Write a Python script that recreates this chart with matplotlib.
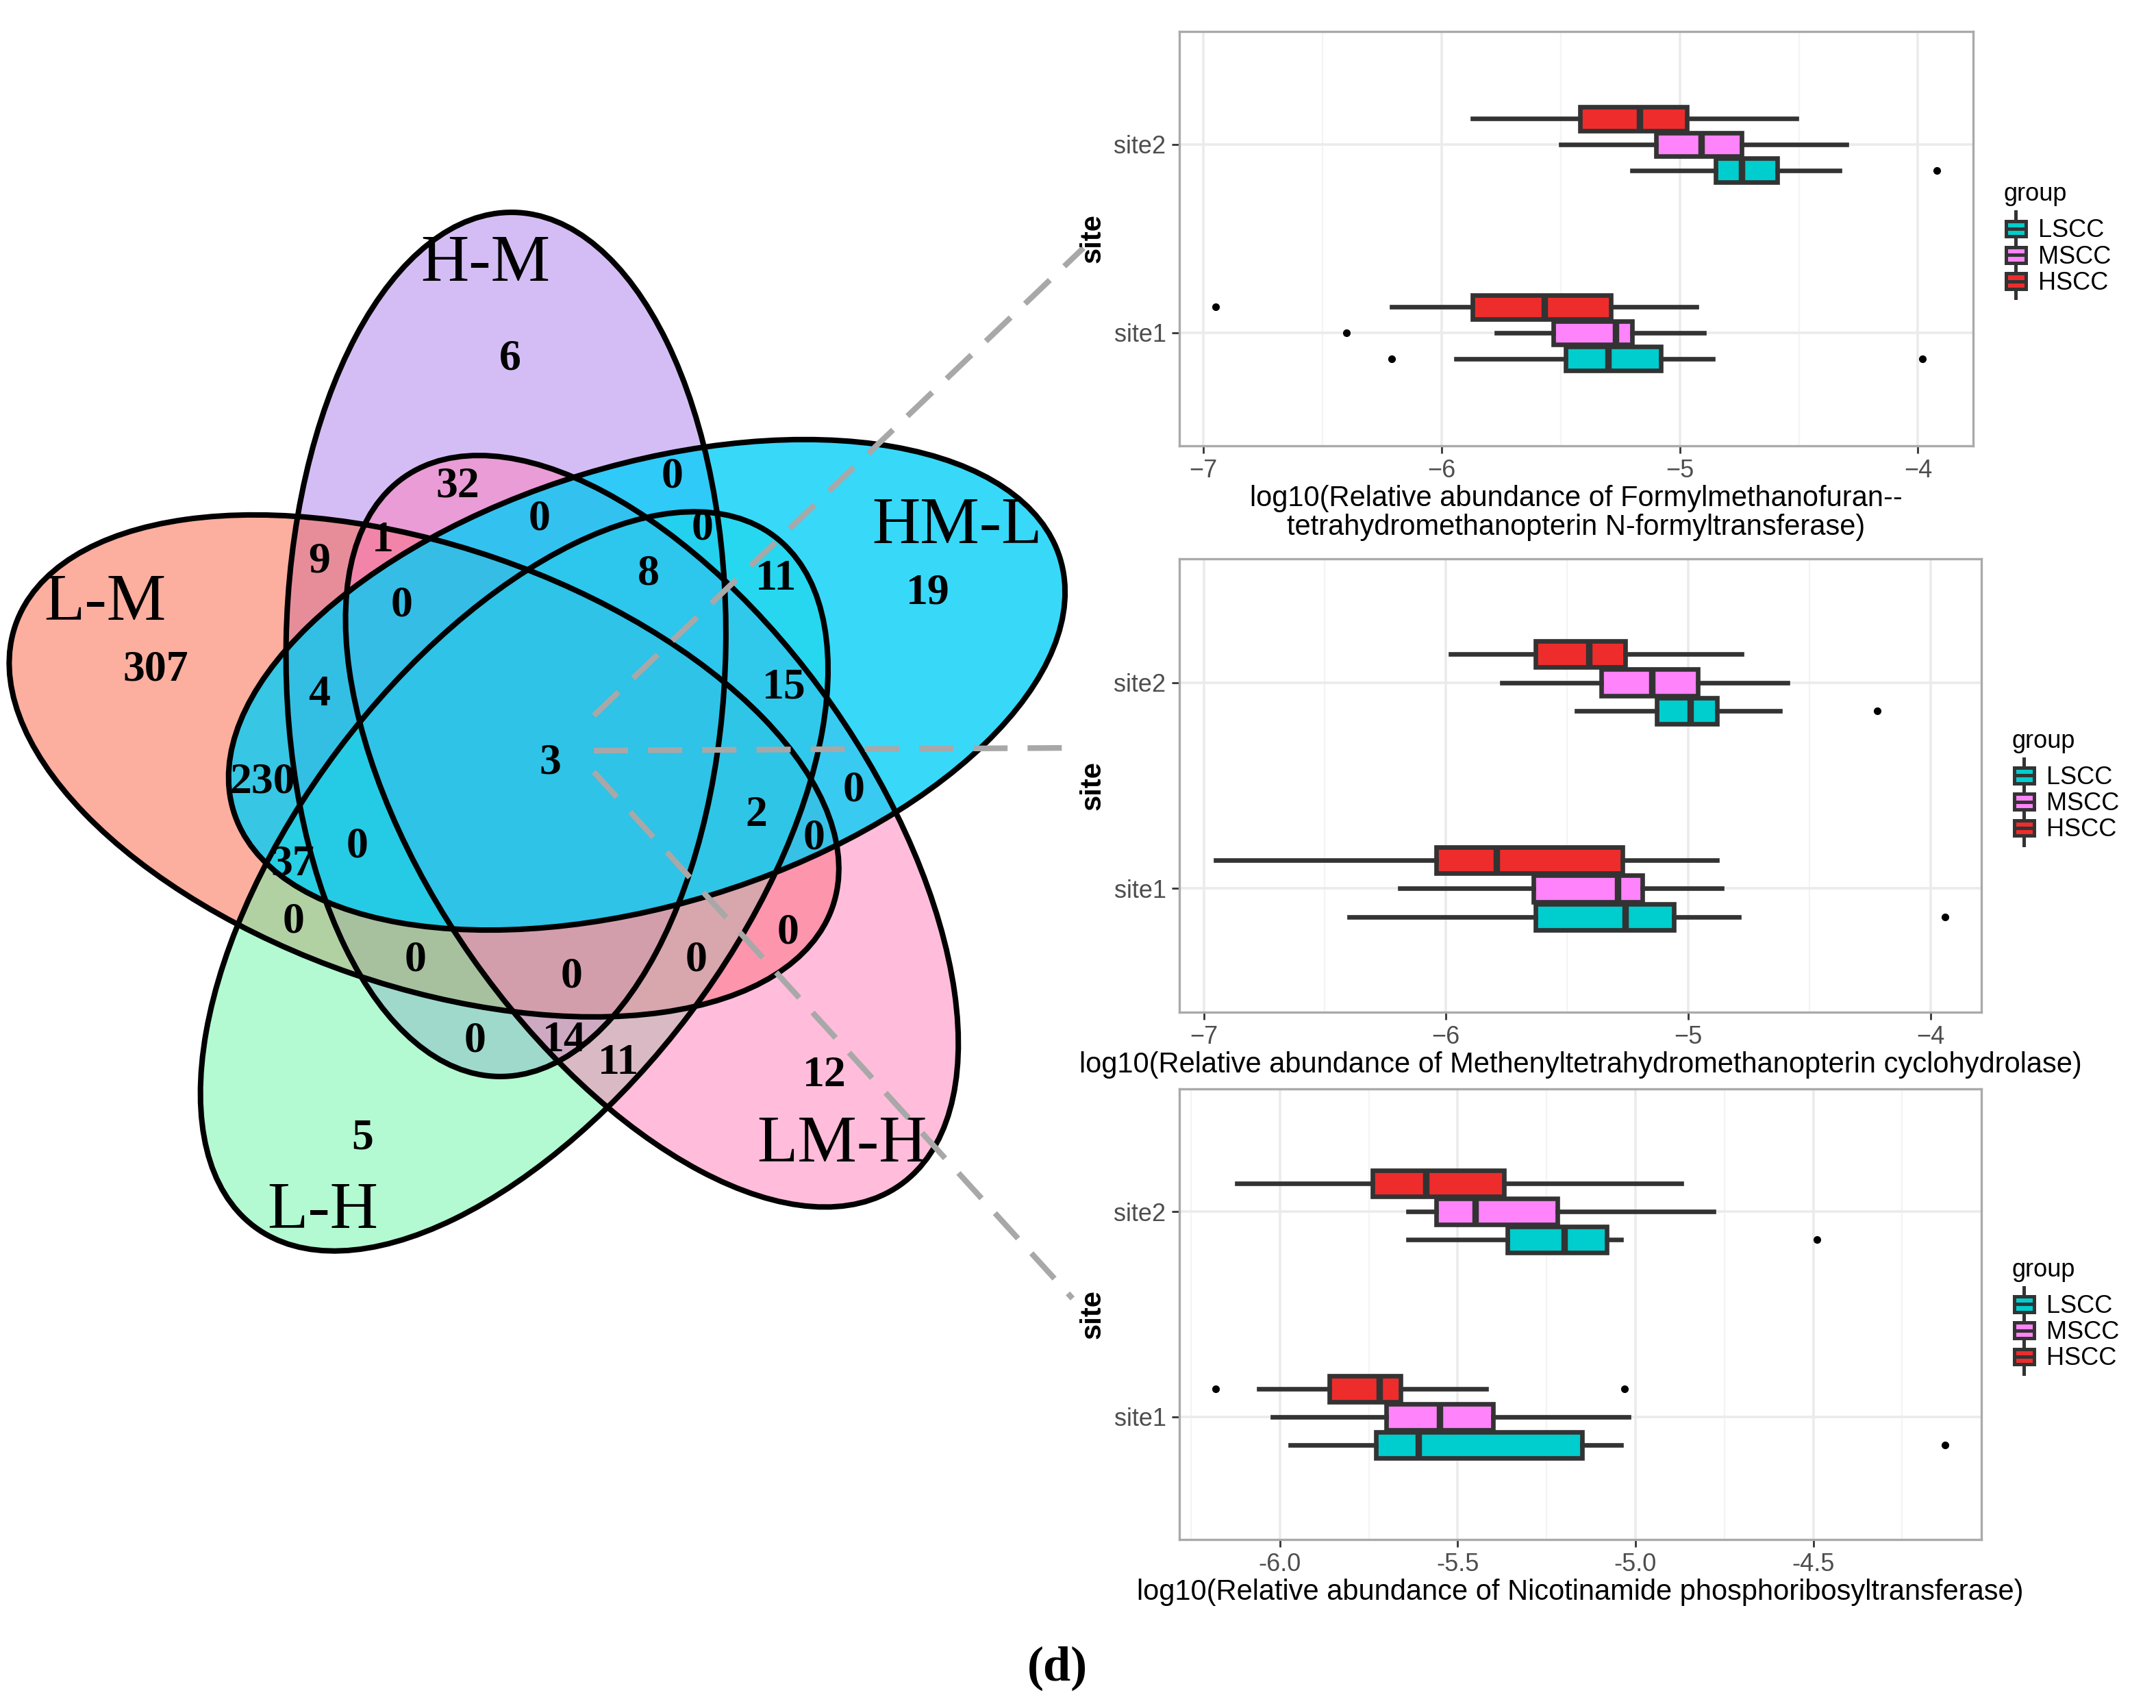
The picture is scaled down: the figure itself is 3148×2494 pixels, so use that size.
import numpy as np
import matplotlib
matplotlib.use('Agg')
import matplotlib.pyplot as plt
from matplotlib.patches import Ellipse, Rectangle
from matplotlib.lines import Line2D
from matplotlib.legend_handler import HandlerBase
from matplotlib.ticker import MultipleLocator

plt.rcParams['font.family'] = ['Liberation Sans', 'DejaVu Sans']

# ---- Venn data ----
venn_sets = ['H-M', 'HM-L', 'LM-H', 'L-H', 'L-M']
venn_counts = [6, 32, 0, 0, 0, 19, 307, 9, 1, 0, 8, 11, 4, 15, 3, 230,
               2, 0, 37, 0, 0, 0, 0, 0, 0, 0, 0, 14, 11, 12, 5]

# ---- box plot data (order: site1 LSCC, MSCC, HSCC, site2 LSCC, MSCC, HSCC) ----
groups = ['LSCC', 'MSCC', 'HSCC']
sites = ['site1', 'site2']

formyl_lo = [-5.94, -5.77, -6.21, -5.20, -5.50, -5.87]
formyl_q1 = [-5.48, -5.53, -5.87, -4.85, -5.10, -5.42]
formyl_med = [-5.30, -5.27, -5.57, -4.74, -4.91, -5.17]
formyl_q3 = [-5.08, -5.20, -5.29, -4.59, -4.74, -4.97]
formyl_hi = [-4.86, -4.90, -4.93, -4.33, -4.30, -4.51]
formyl_out = [[-6.21, -3.98], [-6.40], [-6.95], [-3.92], [], []]

methenyl_lo = [-6.40, -6.19, -6.95, -5.46, -5.77, -5.98]
methenyl_q1 = [-5.63, -5.64, -6.04, -5.13, -5.36, -5.63]
methenyl_med = [-5.26, -5.29, -5.79, -4.99, -5.15, -5.41]
methenyl_q3 = [-5.06, -5.19, -5.27, -4.88, -4.96, -5.26]
methenyl_hi = [-4.79, -4.86, -4.88, -4.62, -4.59, -4.78]
methenyl_out = [[-3.94], [], [], [-4.22], [], []]

nicotin_lo = [-5.97, -6.02, -6.06, -5.64, -5.64, -6.12]
nicotin_q1 = [-5.73, -5.70, -5.86, -5.36, -5.56, -5.74]
nicotin_med = [-5.61, -5.55, -5.72, -5.20, -5.45, -5.59]
nicotin_q3 = [-5.15, -5.40, -5.66, -5.08, -5.22, -5.37]
nicotin_hi = [-5.04, -5.02, -5.42, -5.04, -4.78, -4.87]
nicotin_out = [[-4.13], [], [-6.18, -5.03], [-4.49], [], []]

group_colors = ['#00CDCD', '#FF83FA', '#EE2C2C']
edge = '#333333'

W, H = 3148, 2494
fig = plt.figure(figsize=(W / 200, H / 200), dpi=200)

# ---------------- Venn (pixel coordinates overlay) ----------------
venn = fig.add_axes([0, 0, 1, 1])
venn.set_xlim(0, W)
venn.set_ylim(H, 0)
venn.axis('off')

fills = ['#AB7DEB', '#00CEF8', '#FF7DB9', '#69F5A5', '#FB5F41']
alphas = [0.5, 0.78, 0.5, 0.5, 0.5]
cx0, cy0, rad, semi_a, semi_b = 801, 1112, 182, 631, 321
ells = []
for k in range(5):
    th = np.deg2rad(110 - 72 * k)
    phi = 110 - 72 * k - 21
    c = (cx0 + rad * np.cos(th), cy0 - rad * np.sin(th))
    ells.append((c, -phi))

for k in [0, 4, 3, 2, 1]:
    c, ang = ells[k]
    venn.add_patch(Ellipse(c, 2 * semi_a, 2 * semi_b, angle=ang, facecolor=fills[k],
                           alpha=alphas[k], edgecolor='none', zorder=1))
for c, ang in ells:
    venn.add_patch(Ellipse(c, 2 * semi_a, 2 * semi_b, angle=ang, facecolor='none',
                           edgecolor='black', lw=2.9, zorder=2))

count_pos = [(745, 525), (668, 711), (982, 696), (788, 758), (1026, 773), (1355, 867),
             (227, 979), (466, 821), (559, 790), (587, 885), (947, 839), (1133, 846),
             (466, 1015), (1145, 1004), (803, 1115), (383, 1142), (1104, 1191),
             (1247, 1155), (427, 1262), (522, 1237), (1189, 1224), (429, 1346),
             (607, 1402), (835, 1426), (1017, 1402), (1151, 1362), (694, 1520),
             (824, 1520), (903, 1553), (1204, 1571), (529, 1663)]
for n, (x, y) in zip(venn_counts, count_pos):
    venn.text(x, y, str(n), ha='center', va='center', fontsize=23, fontweight='bold',
              family='Liberation Serif', zorder=3)

set_pos = [(709, 387), (1398, 770), (1230, 1673), (471, 1770), (153, 882)]
for name, (x, y) in zip(venn_sets, set_pos):
    venn.text(x, y, name, ha='center', va='center', fontsize=35,
              family='Liberation Serif', zorder=3)

for (x0, y0), (x1, y1) in [((867, 1045), (1582, 362)), ((867, 1096), (1570, 1092)),
                           ((867, 1127), (1566, 1896))]:
    venn.plot([x0, x1], [y0, y1], color='#A8A8A8', lw=3.0, ls=(0, (6, 3.5)), zorder=4)

venn.text(1544, 2436, '(d)', ha='center', va='center', fontsize=26, fontweight='bold',
          family='Liberation Serif')


# ---------------- box plots ----------------
class BoxKey(HandlerBase):
    def create_artists(self, legend, orig_handle, xdescent, ydescent, width, height,
                       fontsize, trans):
        x0, y0 = -xdescent, -ydescent
        cx = x0 + width / 2
        whisk = Line2D([cx, cx], [y0 - 3, y0 + height + 3], color=edge, lw=1.8,
                       transform=trans)
        box = Rectangle((x0 + width * 0.1, y0 + height * 0.15), width * 0.8, height * 0.7,
                        facecolor=orig_handle.get_facecolor(), edgecolor=edge, lw=1.8,
                        transform=trans)
        med = Line2D([x0 + width * 0.1, x0 + width * 0.9], [y0 + height / 2] * 2,
                     color=edge, lw=1.8, transform=trans)
        return [whisk, box, med]


offsets = [-0.137, 0.0, 0.137]
box_h = 0.127


def draw_panel(ax, lo, q1, med, q3, hi, out, xlabel, minor):
    stats, pos = [], []
    for s in range(len(sites)):
        for g in range(len(groups)):
            i = s * len(groups) + g
            stats.append(dict(whislo=lo[i], q1=q1[i], med=med[i], q3=q3[i],
                              whishi=hi[i], fliers=out[i]))
            pos.append(s + 1 + offsets[g])
    res = ax.bxp(stats, positions=pos, widths=box_h, orientation='horizontal',
                 patch_artist=True, showcaps=False,
                 boxprops=dict(edgecolor=edge, lw=2.4),
                 whiskerprops=dict(color=edge, lw=2.4),
                 medianprops=dict(color=edge, lw=3.4, solid_capstyle='butt'),
                 flierprops=dict(marker='o', markerfacecolor='black',
                                 markeredgecolor='black', markersize=3.0))
    for i, b in enumerate(res['boxes']):
        b.set_facecolor(group_colors[i % 3])
    vals = lo + hi + [v for o in out for v in o]
    mn, mx = min(vals), max(vals)
    pad = 0.05 * (mx - mn)
    ax.set_xlim(mn - pad, mx + pad)
    ax.set_ylim(0.4, 2.6)
    ax.set_yticks([1, 2])
    ax.set_yticklabels(sites)
    ax.xaxis.set_minor_locator(MultipleLocator(minor))
    ax.set_axisbelow(True)
    ax.grid(which='major', color='#EBEBEB', lw=1.3)
    ax.grid(which='minor', axis='x', color='#F4F4F4', lw=0.8)
    ax.tick_params(which='major', length=4, width=1, color=edge, labelcolor='#4D4D4D',
                   labelsize=13, pad=3)
    ax.tick_params(which='minor', length=0)
    for sp in ax.spines.values():
        sp.set_color('#AAAAAA')
        sp.set_linewidth(1.2)
    ax.set_xlabel(xlabel, fontsize=15, labelpad=1, linespacing=1.05)
    ax.set_ylabel('site', fontsize=15, fontweight='bold', labelpad=4)
    handles = [Rectangle((0, 0), 1, 1, facecolor=c) for c in group_colors]
    leg = ax.legend(handles, groups, title='group', loc='center left',
                    bbox_to_anchor=(1.01, 0.5), frameon=False, fontsize=13,
                    title_fontsize=13, alignment='left',
                    handler_map={Rectangle: BoxKey()}, handlelength=1.0,
                    handleheight=1.0, labelspacing=0.05, handletextpad=0.4)
    leg._legend_box.sep = 6


ax1 = fig.add_axes([1722 / W, 1 - 651 / H, 1159 / W, 605 / H])
draw_panel(ax1, formyl_lo, formyl_q1, formyl_med, formyl_q3, formyl_hi, formyl_out,
           'log10(Relative abundance of Formylmethanofuran--\n'
           'tetrahydromethanopterin N-formyltransferase)', 0.5)
ax1.set_xticks([-7, -6, -5, -4])

ax2 = fig.add_axes([1722 / W, 1 - 1478 / H, 1171 / W, 662 / H])
draw_panel(ax2, methenyl_lo, methenyl_q1, methenyl_med, methenyl_q3, methenyl_hi,
           methenyl_out,
           'log10(Relative abundance of Methenyltetrahydromethanopterin cyclohydrolase)', 0.5)
ax2.set_xticks([-7, -6, -5, -4])

ax3 = fig.add_axes([1722 / W, 1 - 2248 / H, 1171 / W, 658 / H])
draw_panel(ax3, nicotin_lo, nicotin_q1, nicotin_med, nicotin_q3, nicotin_hi, nicotin_out,
           'log10(Relative abundance of Nicotinamide phosphoribosyltransferase)', 0.25)
ax3.set_xticks([-6.0, -5.5, -5.0, -4.5])
ax3.set_xticklabels(['-6.0', '-5.5', '-5.0', '-4.5'])

fig.savefig('out.png', dpi=200)
